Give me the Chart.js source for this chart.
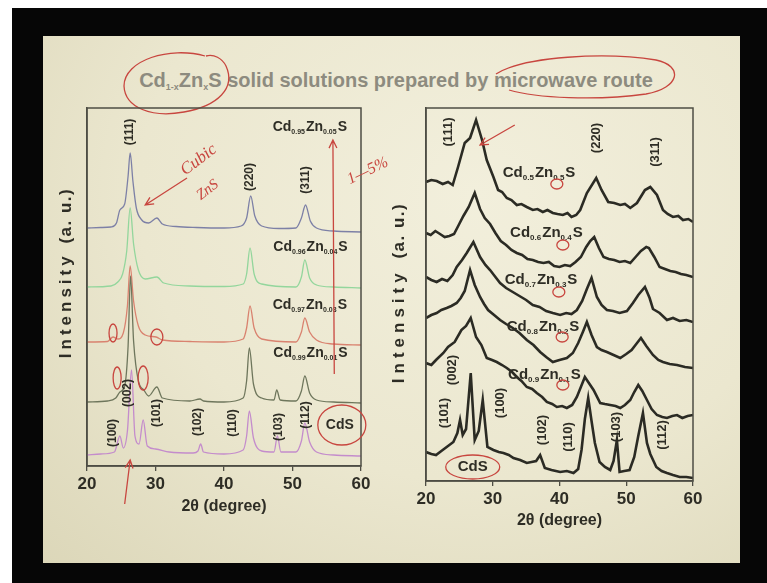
<!DOCTYPE html>
<html>
<head>
<meta charset="utf-8">
<script src="https://cdn.jsdelivr.net/npm/chart.js@4.4.0/dist/chart.umd.min.js"></script>
<style>
  body { margin: 0; width: 767px; height: 583px; background: #fff; position: relative; overflow: hidden; }
  #frame { position: absolute; left: 12px; top: 8px; width: 755px; height: 575px; background: #060606; }
  #slide { position: absolute; left: 43px; top: 36px; width: 697px; height: 527px;
           background: radial-gradient(ellipse at 62% 30%, #f2efdc 0%, #ebe7cf 55%, #dcd7b9 100%); }
  #title { position: absolute; left: 396px; top: 68px; transform: translateX(-50%); white-space: nowrap;
           font: bold 20px "Liberation Sans", Arial, sans-serif; color: #8d8b7f; line-height: 24px; letter-spacing: 0px; }
  #title sub { font-size: 9px; vertical-align: -3px; }
  canvas, svg { position: absolute; left: 0; top: 0; }
</style>
</head>
<body>
<div id="frame"></div>
<div id="slide"></div>
<div id="title">Cd<sub>1-x</sub>Zn<sub>x</sub>S solid solutions prepared by microwave route</div>
<svg width="767" height="583">
  <path d="M205 56 C170 46 124 60 124 86 C125 108 152 118 184 112 C218 106 236 88 226 66 C222 58 214 54 206 56" fill="none" stroke="#c8463f" stroke-width="1.3"/>
  <path d="M496 74 C524 56 606 52 656 60 C684 66 680 88 646 94 C596 101 536 98 509 90" fill="none" stroke="#c8463f" stroke-width="1.3"/>
</svg>
<canvas id="left" width="767" height="583"></canvas>
<canvas id="right" width="767" height="583"></canvas>
<script>
// ---- data: 2-theta positions and intensities (a.u.) ----
const xTicks = [20, 30, 40, 50, 60];

// left panel: Cd(1-x)Zn(x)S, x = 0.05 ... 0 (CdS)
const l05X = [20,22,23.5,24.3,24.8,25.5,26.0,26.3,26.7,27.2,28.0,29.0,30.2,31.0,33,36,40,42.5,43.3,43.9,44.5,45.5,48,50.5,51.3,51.9,52.6,53.5,56,60];
const l05Y = [238,238.5,239,243,256,262,290,313,285,258,246,243,248,242,239.5,238.5,238,240,248,270,250,240,237.5,238,248,261,245,238,235,234];
const l04X = [20,23.5,24.5,25.2,25.8,26.3,26.8,27.5,28.5,30.2,31.2,35,40,42.8,43.3,43.8,44.4,45.5,50.5,51.3,51.8,52.5,53.5,56,60];
const l04Y = [179,180,184,192,215,258,222,196,187,189,183,180,179.5,182,192,218,192,182,179,189,206,188,181,179,178];
const l03X = [20,23.0,23.8,24.5,25.3,25.9,26.3,26.8,27.5,28.5,30.1,31,35,40,42.8,43.3,43.8,44.4,45.5,50.5,51.3,51.8,52.5,53.5,56,60];
const l03Y = [124,124.5,129,127,133,160,200,165,140,131,129,126,124.5,124,127,138,160,138,127,124,134,148,134,126,122,121];
const l01X = [20,23,24.2,24.8,25.5,26.0,26.35,26.8,27.5,28.3,29.0,30.2,31,35,36.5,37,40,42.8,43.3,43.7,44.3,45.5,47.3,47.7,48.2,50.5,51.3,51.8,52.5,53.5,56,60];
const l01Y = [64,65,68,74,80,120,190,125,85,76,70,79,68,65,67,65,64,68,85,118,82,68,66,76,66,65,75,90,73,66,64,63];
const l00X = [20,22,24.0,24.8,25.3,25.9,26.5,27.0,27.6,28.2,28.8,30,32,35.5,36.2,36.6,37.0,40,42.8,43.3,43.7,44.3,45.5,47.3,47.8,48.3,50.5,51.3,51.8,52.5,53.5,56,60];
const l00Y = [11,12,14,30,18,35,96,30,22,46,20,17,14,13,15,22,14,12,16,30,55,28,15,14,30,14,14,25,43,24,14,11,10];
const leftNames = ['Cd|0.95|Zn|0.05|S', 'Cd|0.96|Zn|0.04|S', 'Cd|0.97|Zn|0.03|S', 'Cd|0.99|Zn|0.01|S', 'CdS'];
const leftColors = ['#7d80a6', '#93d69c', '#d9826f', '#6e765c', '#c48ccc'];

// right panel: Cd(1-x)Zn(x)S, x = 0.5 ... 0 (CdS)
const r5X = [20,20.8,21.6,22.5,23.3,24.0,24.8,25.8,26.6,27.5,28.4,29.1,30.1,30.8,31.4,32.1,32.8,33.6,34.3,35.1,36.0,36.7,37.5,38.2,39.0,39.7,40.5,41.2,41.8,42.5,43.1,44.1,45.5,46.3,47.3,48.2,49.1,49.8,50.6,51.6,52.8,53.6,54.6,55.5,56.2,57.0,57.8,58.5,59.3,60];
const r5Y = [299,301,300,297,299,296,314,338,343,361,341,321,304,291,289,283,281,276,277,274,271,272,269,271,268,267,266,268,264,266,271,288,303,291,279,278,276,277,273,278,291,294,286,271,267,264,265,261,262,259];
const r4X = [20,20.7,21.4,22.1,22.8,23.5,24.2,24.9,25.6,26.4,27.3,28.1,28.8,29.6,30.4,31.2,32.0,32.8,33.6,34.4,35.2,36.0,36.8,37.6,38.4,39.2,40.0,40.8,41.6,42.4,43.2,44.0,44.6,45.2,45.9,46.6,47.4,48.2,49.0,49.8,50.6,51.4,52.2,53.0,53.4,54.2,55.0,55.8,56.6,57.4,58.2,59.0,60];
const r4Y = [248,246,250,247,244,245,247,256,265,274,288,272,263,257,248,240,236,231,228,226,222,221,219,218,219,215,214,216,215,219,224,234,240,244,233,224,222,221,219,220,218,224,230,234,233,224,214,212,210,209,207,206,204];
const r3X = [20,20.8,21.6,22.4,23.2,24.0,24.6,25.4,26.1,27.1,28.1,28.9,29.6,30.4,31.1,32.0,33.0,34.0,35.0,36.0,37.0,38.0,39.0,40.1,41.0,41.8,42.6,43.4,44.1,44.8,45.6,46.3,47.1,48.0,49.0,50.1,51.0,51.8,52.8,53.5,54.0,55.0,56.1,57.0,58.0,59.0,60];
const r3Y = [204,201,199,202,200,206,214,221,228,239,224,216,211,204,198,193,189,185,181,176,174,170,168,166,168,167,171,180,192,203,184,176,171,170,168,170,178,186,194,183,172,168,161,163,160,161,159];
const r2X = [20,20.8,21.6,22.3,23.1,23.8,24.6,25.2,25.8,26.6,27.3,28.1,28.7,29.3,30.2,31.1,32.0,33.0,34.0,35.1,36.1,37.1,38.0,39.0,40.0,41.1,42.0,42.8,43.5,44.1,44.8,45.6,46.3,47.1,48.1,49.1,50.0,50.8,51.5,52.2,53.0,54.0,54.8,55.5,56.5,57.6,58.8,60];
const r2Y = [163,166,168,171,173,175,178,183,190,211,196,184,177,171,166,161,157,153,148,141,136,129,124,119,121,123,128,138,149,159,146,134,131,129,126,123,127,131,137,143,135,126,121,119,117,116,114,113];
const r1X = [20,20.8,21.5,22.6,23.3,24.3,25.3,26.0,26.7,27.5,28.3,29.1,29.9,30.6,31.4,32.1,32.9,33.6,34.3,35.1,35.9,36.6,37.4,38.1,38.9,39.6,40.4,41.1,41.9,42.6,43.2,43.8,44.5,45.1,46.1,46.8,47.6,48.4,49.1,49.8,50.6,51.2,51.8,52.4,53.1,53.8,54.6,55.4,56.1,56.9,57.6,58.4,59.2,60];
const r1Y = [118,116,121,128,134,139,151,155,163,144,136,123,121,119,116,113,109,104,100,94,92,88,84,79,77,74,75,73,76,84,94,104,97,91,78,77,76,75,73,76,81,89,96,90,81,72,66,64,63,65,66,63,65,66];
const r0X = [20,20.8,21.5,22.3,23.1,24.1,24.7,25.1,25.5,26.0,26.7,27.3,27.9,28.5,29.2,30.1,30.9,31.6,32.4,33.1,34.1,35.1,35.8,36.5,37.1,37.8,38.8,40.1,41.1,42.1,42.8,43.3,43.8,44.3,44.8,45.3,46.0,46.8,47.6,48.1,48.6,49.0,49.7,50.5,51.2,51.8,52.5,53.1,53.6,54.5,55.3,56.1,57.0,58.0,59.0,60];
const r0Y = [29,27,26,30,34,39,48,61,46,52,108,41,50,81,34,31,29,28,26,23,21,18,19,20,26,13,11,9,10,8,12,31,62,83,60,38,19,14,11,20,41,9,10,11,24,45,68,38,27,14,10,8,6,4,4,3];
const rightNames = ['Cd|0.5|Zn|0.5|S', 'Cd|0.6|Zn|0.4|S', 'Cd|0.7|Zn|0.3|S', 'Cd|0.8|Zn|0.2|S', 'Cd|0.9|Zn|0.1|S', 'CdS'];

const FONT = '"Liberation Sans", Arial, sans-serif';
const RED = '#c8463f';
const INK = '#2e2d25';

const pts = (xs, ys) => xs.map((x, i) => ({ x: x, y: ys[i] }));

function drawFormula(ctx, x, y, label, size) {
    const parts = label.split('|');
    let cx = x;
    parts.forEach((t, i) => {
        const sub = i % 2 === 1;
        ctx.font = 'bold ' + (sub ? Math.round(size * 0.5) : size) + 'px ' + FONT;
        ctx.fillText(t, cx, sub ? y + size * 0.35 : y);
        cx += ctx.measureText(t).width + (sub ? 1 : 0);
    });
}

// frame, y title, peak labels, sample names
const panelPlugin = {
    id: 'panel',
    afterDraw(chart, args, o) {
        const { ctx, chartArea: a, scales: { x, y } } = chart;
        ctx.save();
        ctx.strokeStyle = '#4e4d44';
        ctx.lineWidth = 1.5;
        ctx.strokeRect(a.left, a.top, a.right - a.left, a.bottom - a.top);

        // y axis title, spaced letters
        ctx.fillStyle = INK;
        ctx.translate(a.left + o.yTitleDx, y.getPixelForValue(o.yTitleAt));
        ctx.rotate(-Math.PI / 2);
        ctx.font = 'bold ' + o.yTitleSize + 'px ' + FONT;
        ctx.textBaseline = 'middle';
        ctx.letterSpacing = o.yTitleSpace + 'px';
        const w1 = ctx.measureText('Intensity ').width;
        ctx.letterSpacing = '1.5px';
        const w2 = ctx.measureText('(a. u.)').width;
        let sx = -(w1 + w2) / 2;
        ctx.letterSpacing = o.yTitleSpace + 'px';
        ctx.fillText('Intensity ', sx, 0);
        ctx.letterSpacing = '1.5px';
        ctx.fillText('(a. u.)', sx + w1, 0);
        ctx.restore();

        ctx.save();
        ctx.fillStyle = INK;
        ctx.textBaseline = 'middle';
        o.hkl.forEach(h => {
            ctx.save();
            ctx.translate(x.getPixelForValue(h[1]), y.getPixelForValue(h[2]));
            ctx.rotate(-Math.PI / 2);
            ctx.textAlign = 'center';
            ctx.font = 'bold ' + o.hklSize + 'px ' + FONT;
            ctx.fillText(h[0], 0, 0);
            ctx.restore();
        });
        ctx.textAlign = 'left';
        o.names.forEach(n => {
            if (n[0] === 'CdS') {
                ctx.textAlign = 'center';
                ctx.font = 'bold ' + o.nameSize + 'px ' + FONT;
                ctx.fillText('CdS', x.getPixelForValue(n[1]), y.getPixelForValue(n[2]));
                ctx.textAlign = 'left';
            } else {
                drawFormula(ctx, x.getPixelForValue(n[1]), y.getPixelForValue(n[2]), n[0], o.nameSize);
            }
        });
        ctx.restore();
    }
};

// red hand-drawn marks of the lecturer
const notesPlugin = {
    id: 'notes',
    afterDraw(chart, args, o) {
        const { ctx, scales: { x, y } } = chart;
        const px = v => x.getPixelForValue(v), py = v => y.getPixelForValue(v);
        ctx.save();
        ctx.strokeStyle = RED;
        ctx.fillStyle = RED;
        ctx.lineWidth = 1.3;
        o.items.forEach(it => {
            if (it.type === 'ellipse') {
                ctx.beginPath();
                ctx.ellipse(px(it.x), py(it.y), it.rx, it.ry, it.rot || 0, 0, Math.PI * 2);
                ctx.stroke();
            } else if (it.type === 'arrow') {
                const x1 = px(it.x1), y1 = py(it.y1), x2 = px(it.x2), y2 = py(it.y2);
                const ang = Math.atan2(y2 - y1, x2 - x1);
                ctx.beginPath();
                ctx.moveTo(x1, y1);
                ctx.lineTo(x2, y2);
                ctx.moveTo(x2 - 9 * Math.cos(ang - 0.45), y2 - 9 * Math.sin(ang - 0.45));
                ctx.lineTo(x2, y2);
                ctx.lineTo(x2 - 9 * Math.cos(ang + 0.45), y2 - 9 * Math.sin(ang + 0.45));
                ctx.stroke();
            } else if (it.type === 'text') {
                ctx.save();
                ctx.translate(px(it.x), py(it.y));
                ctx.rotate(it.rot || 0);
                ctx.font = 'italic ' + it.size + 'px "Liberation Serif", serif';
                ctx.textAlign = 'center';
                ctx.textBaseline = 'middle';
                ctx.fillText(it.text, 0, 0);
                ctx.restore();
            }
        });
        ctx.restore();
    }
};

function xScale(height) {
    return {
        type: 'linear', min: 20, max: 60,
        afterBuildTicks: s => { s.ticks = xTicks.map(v => ({ value: v })); },
        grid: { drawOnChartArea: false, drawTicks: true, tickLength: 5, color: '#4e4d44', lineWidth: 1.3 },
        border: { display: true, color: '#4e4d44', width: 1.5 },
        ticks: { color: INK, padding: 3, maxRotation: 0, font: { family: FONT, size: 17, weight: 'bold' } },
        title: { display: true, text: '2θ (degree)', color: INK, padding: 0,
                 font: { family: FONT, size: 16, weight: 'bold', lineHeight: 1 } },
        afterFit: s => { s.height = height; }
    };
}

function yScale(max) {
    return {
        min: 0, max: max,
        ticks: { display: false },
        grid: { display: false },
        border: { display: true, color: '#4e4d44', width: 1.5 },
        afterFit: s => { s.width = 30; }
    };
}

new Chart(document.getElementById('left'), {
    type: 'line',
    data: {
        datasets: [
            [l00X, l00Y], [l01X, l01Y], [l03X, l03Y], [l04X, l04Y], [l05X, l05Y]
        ].map((d, i) => ({
            label: leftNames[4 - i],
            data: pts(d[0], d[1]),
            borderColor: leftColors[4 - i],
            borderWidth: 1.3,
            pointRadius: 0,
            cubicInterpolationMode: 'monotone'
        }))
    },
    options: {
        responsive: false,
        animation: false,
        layout: { padding: { left: 57, right: 406, top: 108, bottom: 68 } },
        scales: { x: xScale(49), y: yScale(358) },
        plugins: {
            legend: { display: false },
            tooltip: { enabled: false },
            panel: {
                yTitleDx: -21, yTitleAt: 193, yTitleSize: 17, yTitleSpace: 4,
                hklSize: 12, nameSize: 14,
                hkl: [['(111)', 26.3, 334], ['(220)', 43.8, 289], ['(311)', 51.9, 286],
                      ['(100)', 23.7, 33], ['(002)', 25.9, 73], ['(101)', 30.2, 53], ['(102)', 36.2, 44],
                      ['(110)', 41.3, 43], ['(103)', 48.0, 39], ['(112)', 51.9, 51]],
                names: [[leftNames[0], 47.1, 339], [leftNames[1], 47.2, 219], [leftNames[2], 47.1, 161],
                        [leftNames[3], 47.2, 113], [leftNames[4], 56.9, 41]]
            },
            notes: {
                items: [
                    { type: 'text', text: 'Cubic', x: 36.3, y: 306, rot: -0.65, size: 17 },
                    { type: 'text', text: 'ZnS', x: 37.6, y: 276, rot: -0.65, size: 15 },
                    { type: 'arrow', x1: 34.6, y1: 288, x2: 28.5, y2: 261 },
                    { type: 'arrow', x1: 56.1, y1: 92, x2: 55.9, y2: 326 },
                    { type: 'text', text: '1—5%', x: 61.0, y: 295, rot: -0.45, size: 16 },
                    { type: 'arrow', x1: 25.5, y1: -38, x2: 26.3, y2: 6 },
                    { type: 'ellipse', x: 23.8, y: 133, rx: 4, ry: 9 },
                    { type: 'ellipse', x: 30.2, y: 129, rx: 6, ry: 8 },
                    { type: 'ellipse', x: 24.4, y: 88, rx: 4, ry: 11 },
                    { type: 'ellipse', x: 28.2, y: 88, rx: 5, ry: 12 },
                    { type: 'ellipse', x: 57.2, y: 41, rx: 24, ry: 20 }
                ]
            }
        }
    },
    plugins: [panelPlugin, notesPlugin]
});

new Chart(document.getElementById('right'), {
    type: 'line',
    data: {
        datasets: [
            [r0X, r0Y], [r1X, r1Y], [r2X, r2Y], [r3X, r3Y], [r4X, r4Y], [r5X, r5Y]
        ].map((d, i) => ({
            label: rightNames[5 - i],
            data: pts(d[0], d[1]),
            borderColor: '#2b2b24',
            borderWidth: 2.6,
            pointRadius: 0,
            tension: 0
        }))
    },
    options: {
        responsive: false,
        animation: false,
        layout: { padding: { left: 396, right: 74, top: 108, bottom: 54 } },
        scales: { x: xScale(48), y: yScale(373) },
        plugins: {
            legend: { display: false },
            tooltip: { enabled: false },
            panel: {
                yTitleDx: -27, yTitleAt: 188, yTitleSize: 17, yTitleSpace: 5,
                hklSize: 13, nameSize: 15,
                hkl: [['(111)', 23.3, 349], ['(220)', 45.6, 343], ['(311)', 54.3, 329],
                      ['(101)', 22.8, 68], ['(002)', 24.0, 111], ['(100)', 31.1, 78], ['(102)', 37.4, 51],
                      ['(110)', 41.3, 44], ['(103)', 48.5, 54], ['(112)', 55.4, 46]],
                names: [[rightNames[0], 31.5, 308], [rightNames[1], 32.6, 248], [rightNames[2], 31.8, 201],
                        [rightNames[3], 32.1, 154], [rightNames[4], 32.3, 106], [rightNames[5], 27.0, 14]]
            },
            notes: {
                items: [
                    { type: 'arrow', x1: 33.3, y1: 356, x2: 28.1, y2: 336 },
                    { type: 'ellipse', x: 39.6, y: 297, rx: 6, ry: 5 },
                    { type: 'ellipse', x: 40.5, y: 236, rx: 6, ry: 5 },
                    { type: 'ellipse', x: 39.9, y: 189, rx: 6, ry: 5 },
                    { type: 'ellipse', x: 40.4, y: 144, rx: 6, ry: 5 },
                    { type: 'ellipse', x: 40.5, y: 96, rx: 6, ry: 5 },
                    { type: 'ellipse', x: 27.0, y: 14, rx: 27, ry: 12 }
                ]
            }
        }
    },
    plugins: [panelPlugin, notesPlugin]
});
</script>
</body>
</html>
